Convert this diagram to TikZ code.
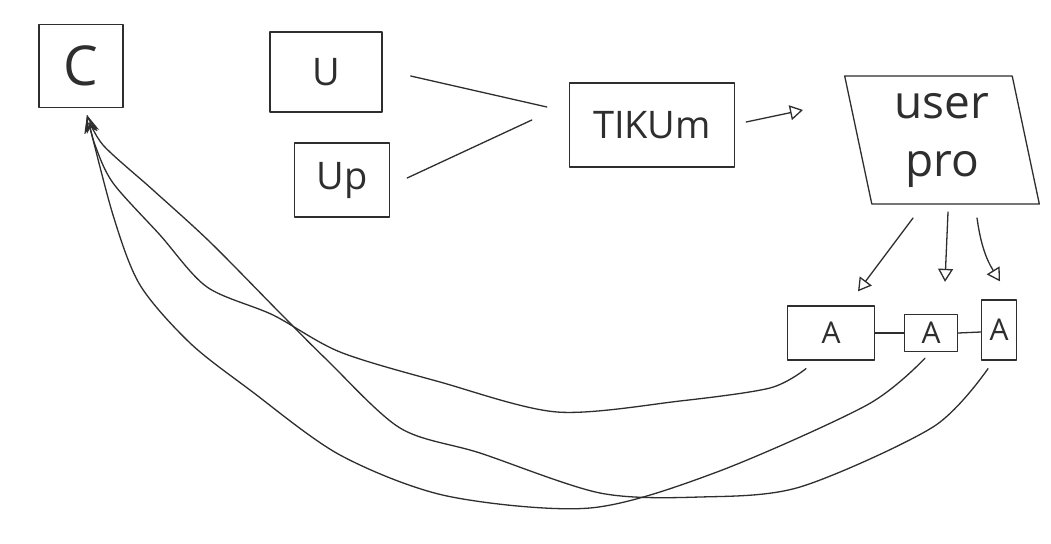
\documentclass[tikz,border=0pt]{standalone}
\usepackage{fontspec}
\setmainfont{Open Sans}
\usetikzlibrary{arrows.meta,shapes.geometric,calc}
\begin{document}
\begin{tikzpicture}[x=1pt,y=-1pt,
  ink/.style={draw=black!82, line width=1.3pt, line join=round, line cap=round},
  box/.style={ink, rectangle, inner sep=0pt, text=black!82},
  con/.style={ink},
  tipc/.style={-{Stealth[open,length=18pt,width=13pt]}},
  tipo/.style={-{Triangle[open,length=13pt,width=15pt]}},
  afont/.style={font=\fontsize{30}{34}\selectfont}
]
\useasboundingbox (0,0) rectangle (1051,543);
\fill[white] (0,0) rectangle (1051,543);

% nodes
\node[box, minimum width=84pt, minimum height=83pt, font=\fontsize{55}{60}\selectfont] (C) at (81,66) {C};
\node[box, minimum width=112pt, minimum height=80pt, font=\fontsize{38}{40}\selectfont] (U) at (326,72) {U};
\node[box, minimum width=95pt, minimum height=74pt, font=\fontsize{38}{40}\selectfont] (UP) at (342,180) {Up};
\node[box, minimum width=165pt, minimum height=84pt, font=\fontsize{38}{44}\selectfont] (T) at (652,125) {TIKUm};
\node[box, shape=trapezium, trapezium left angle=101, trapezium right angle=79, trapezium stretches=true,
      minimum width=195pt, minimum height=128pt, align=center, font=\fontsize{46}{58}\selectfont] (P) at (942,140) {user\\pro};
\node[box, afont, minimum width=87pt, minimum height=54pt] (A1) at (831,333) {A};
\node[box, afont, minimum width=53pt, minimum height=37pt] (A2) at (931,333) {A};
\node[box, afont, minimum width=35pt, minimum height=60pt] (A3) at (999,330) {A};

% connectors into TIKUm and out of it
\draw[con] ([xshift=28pt,yshift=-4pt]U.east) -- ([xshift=-22pt,yshift=18pt]T.west);
\draw[con] ([xshift=17pt,yshift=2pt]UP.east) -- ([xshift=-37pt,yshift=5pt]T.west);
\draw[con, tipo] ([xshift=11pt,yshift=3pt]T.east) -- ([xshift=-139pt,yshift=30pt]P.center);

% user pro to the A boxes
\draw[con, tipo] ([xshift=-29pt,yshift=-78pt]P.center) -- ([xshift=27pt,yshift=14pt]A1.north);
\draw[con, tipo] ([xshift=6pt,yshift=-72pt]P.center) -- ([xshift=14pt,yshift=32pt]A2.north);
\draw[con, tipo] ([xshift=35pt,yshift=-78pt]P.center) to[bend right=12] ([xshift=1pt,yshift=18pt]A3.north);

% A chain
\draw[con] (A1.east) -- (A2.west);
\draw[con] (A2.east) -- ([yshift=-2pt]A3.west);

% long curves back to C
\coordinate (ctip) at (87,115);
\coordinate (a1s) at ([xshift=-25pt,yshift=-8pt]A1.south);
\coordinate (a2s) at ([xshift=-6pt,yshift=-6pt]A2.south);
\coordinate (a3s) at ([xshift=-11pt,yshift=-8pt]A3.south);

\draw[con, tipc] plot[smooth, tension=0.5] coordinates {(a1s) (770,388) (680,401) (557,412) (440,382) (340,352) (273,315) (207,287) (160,235) (113,183) (95,145) (ctip)};
\draw[con, tipc] plot[smooth, tension=0.5] coordinates {(a2s) (867,405) (717,472) (590,508) (447,496) (340,455) (250,390) (190,343) (140,285) (113,215) (ctip)};
\draw[con, tipc] plot[smooth, tension=0.5] coordinates {(a3s) (933,427) (800,487) (700,497) (600,493) (480,453) (400,428) (327,360) (280,313) (210,242) (153,190) (103,145) (ctip)};
\end{tikzpicture}
\end{document}
